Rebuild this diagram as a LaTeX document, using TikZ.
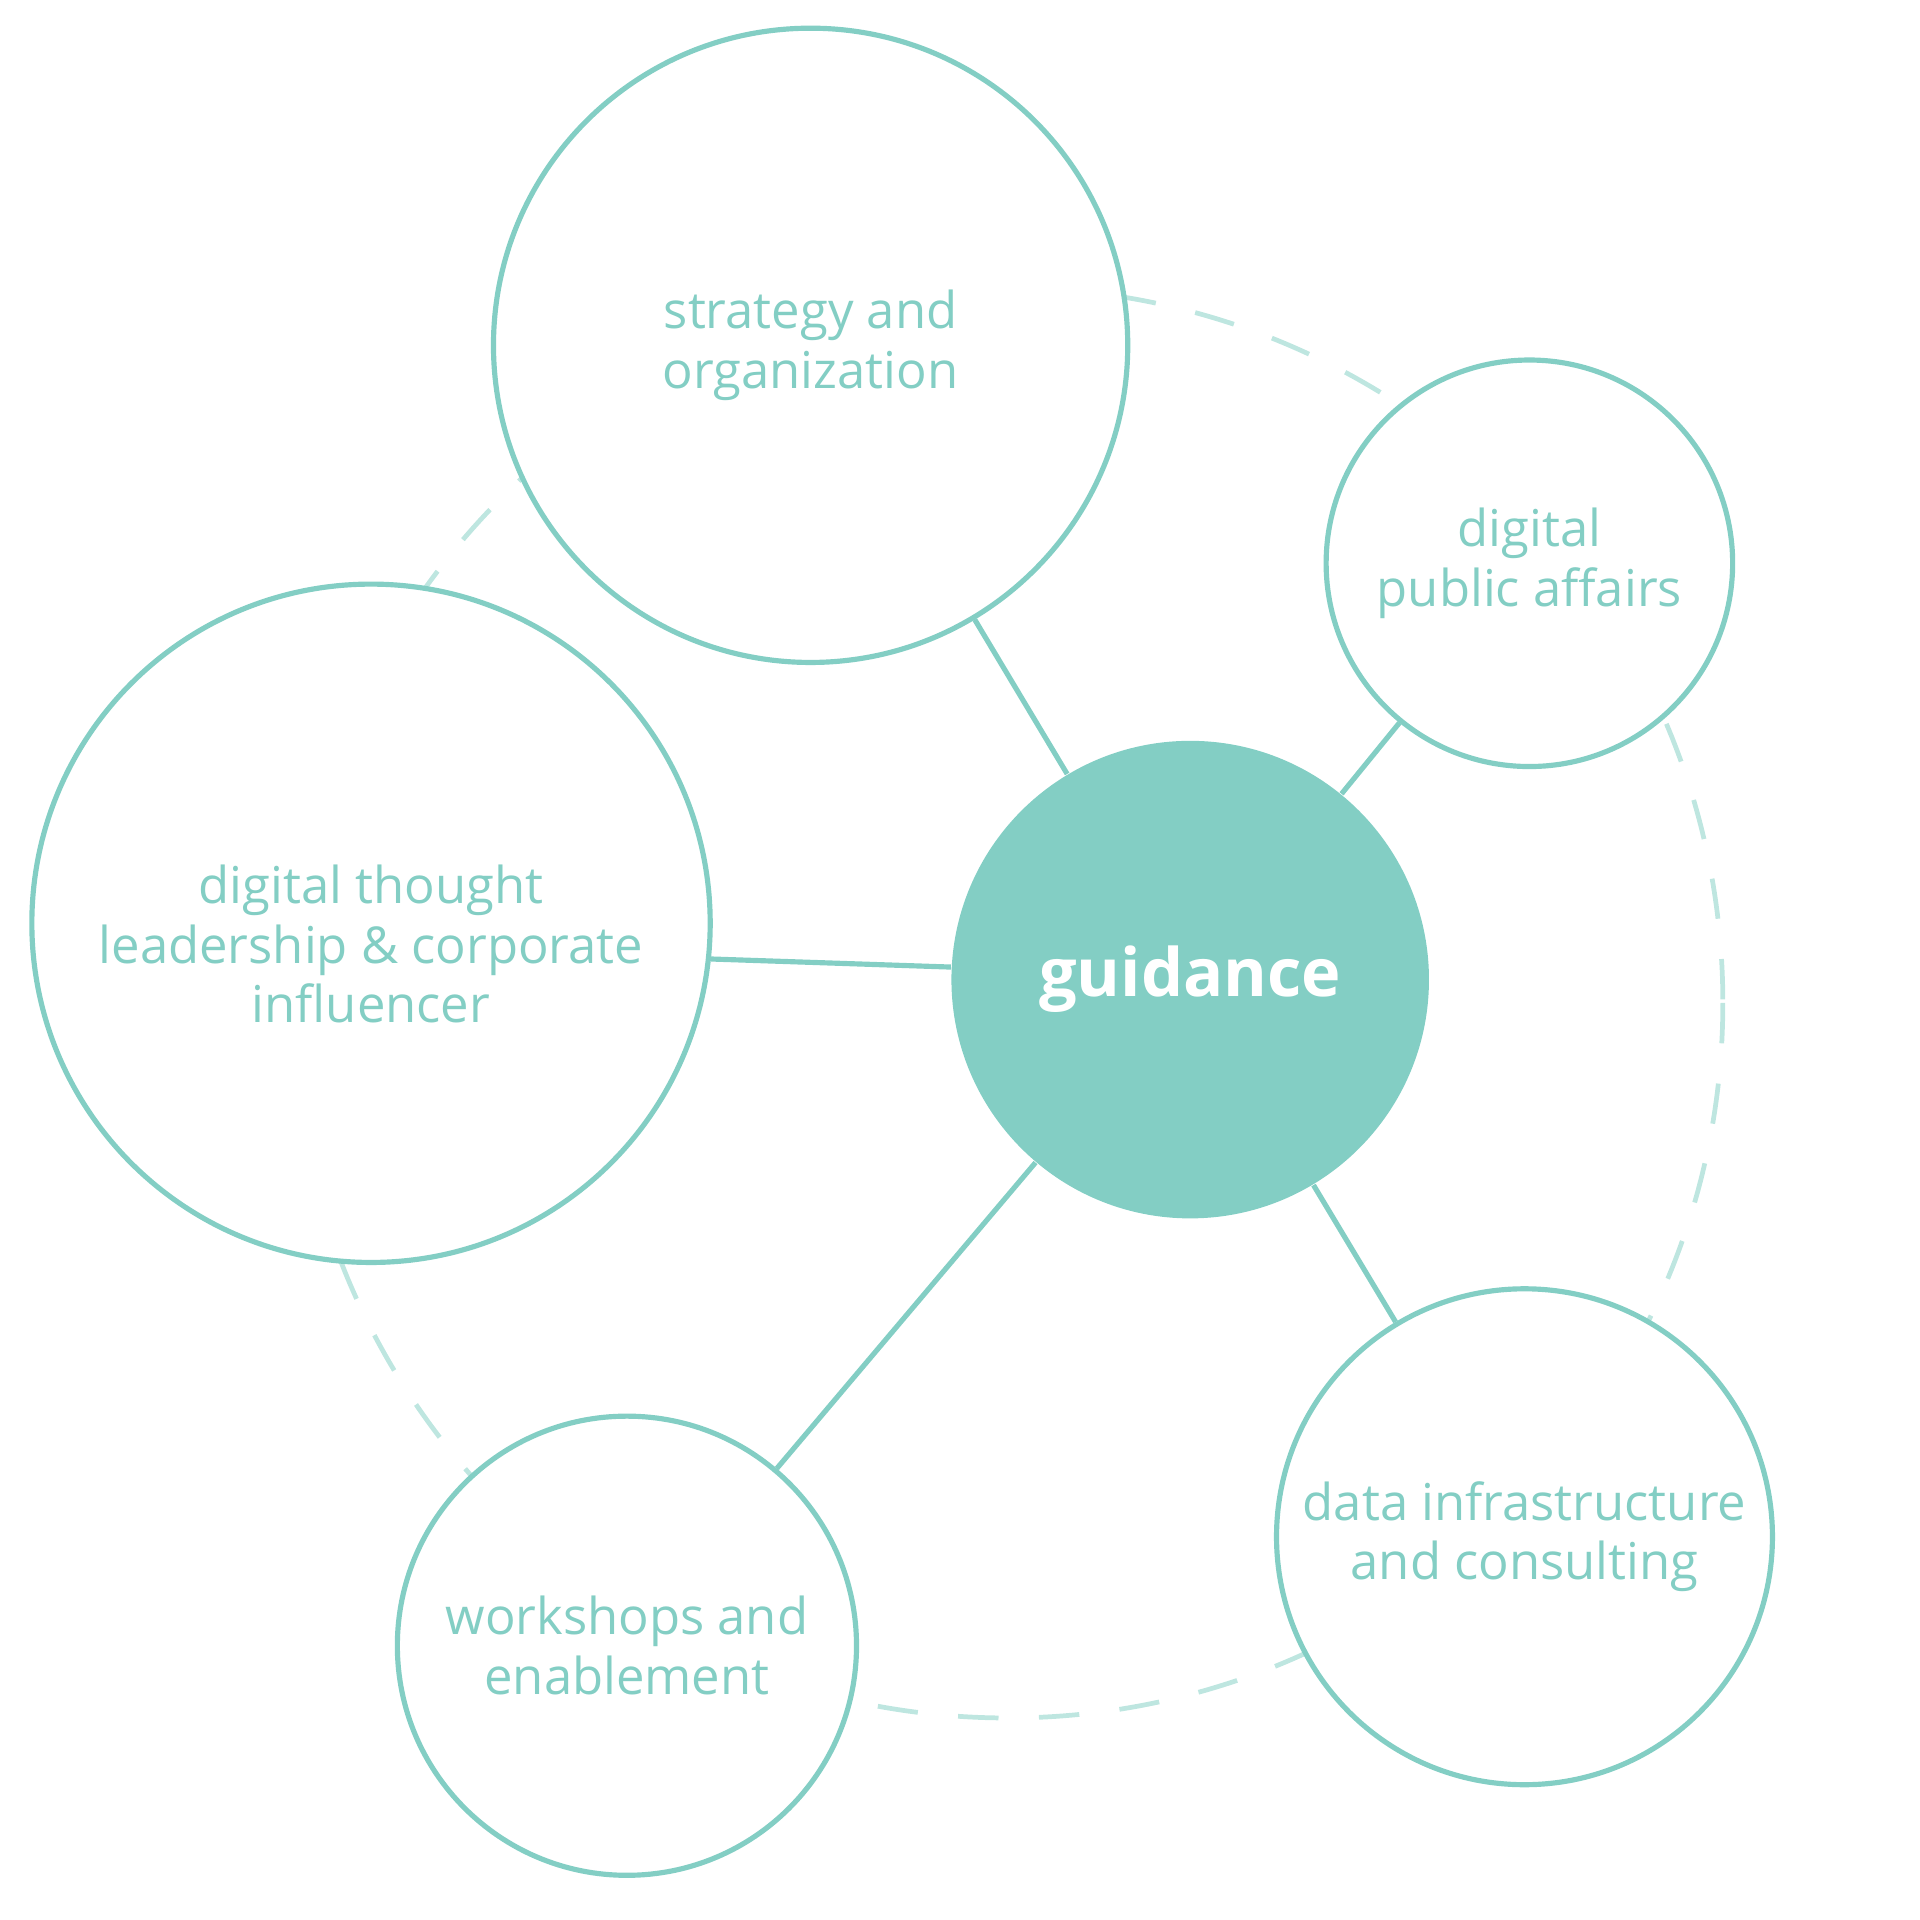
\documentclass[tikz,border=0pt]{standalone}
\usepackage{fontspec}
\setmainfont{Open Sans}
\definecolor{Mint1}{HTML}{83CEC4}
\definecolor{Mint2}{HTML}{BEE6E0}

\begin{document}
\begin{tikzpicture}[x=0.1mm,y=-0.1mm,
  bubble/.style={circle,draw=Mint1,fill=white,line width=1.2pt,inner sep=0pt,
    text=Mint1,align=center,font=\fontsize{11.8}{13.9}\selectfont},
  caption/.style={text=Mint1,align=center,inner sep=0pt,font=\fontsize{11.8}{13.9}\selectfont},
  spoke/.style={draw=Mint1,line width=1.2pt}]
  \useasboundingbox (0,0) rectangle (1568,1568);

  % Dashed ring behind the bubbles
  \draw[Mint2,line width=1.1pt,dash pattern=on 9.4pt off 9.4pt] (823,819) circle[radius=584];

  % Hub
  \node[circle,fill=Mint1,minimum size=39mm,inner sep=0pt,text=white,
    font=\fontsize{15.5}{18}\selectfont\bfseries] (guidance) at (972,800) {guidance};

  % Bubbles round the hub
  \node[bubble,minimum size=51.8mm] (strategy) at (662,282) {strategy and\\organization};
  \node[bubble,minimum size=33.2mm] (affairs) at (1249,460) {digital\\public affairs};
  \node[bubble,minimum size=55.4mm] (thought) at (303,754) {};
  \node[caption] (thoughtlabel) at (303,771) {digital thought\\leadership \& corporate\\influencer};
  \node[bubble,minimum size=37.5mm] (workshops) at (512,1344) {workshops and\\enablement};
  \node[bubble,minimum size=40.5mm] (data) at (1245,1255) {data infrastructure\\and consulting};

  % Spokes
  \draw[spoke] (guidance) -- (strategy);
  \draw[spoke] (guidance) -- (affairs);
  \draw[spoke] (guidance.177) -- (thought.-6);
  \draw[spoke] (guidance) -- (workshops);
  \draw[spoke] (guidance) -- (data);
\end{tikzpicture}
\end{document}
